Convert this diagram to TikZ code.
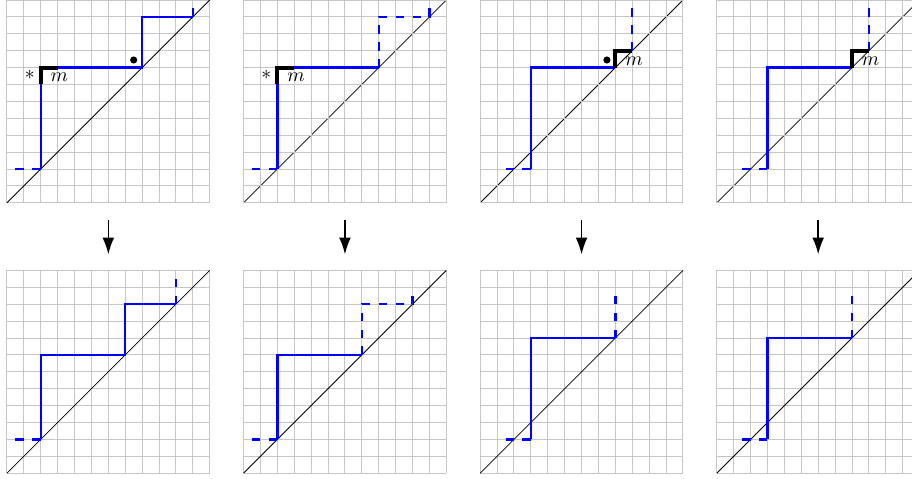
\documentclass[tikz,border=0pt]{standalone}
\usepackage{amsmath}
\usepackage{amssymb}
\usetikzlibrary{arrows.meta}

\begin{document}
\begin{tikzpicture}[
    % Define common styles
        x=0.3cm, y=0.3cm,
        gridline/.style={gray!45, line width=0.5pt, step=0.3cm},
        diag/.style={black, line width=0.4pt},
        lpath/.style={blue, line width=1.2pt},
        ldash/.style={lpath, dash pattern=on 0.15cm off 0.15cm},
        corner/.style={black, line width=2pt},
        dot/.style={circle, fill=black, inner sep=0pt, minimum size=3.6pt},
        lbl/.style={inner sep=0pt},
        arrow/.style={-{Latex[length=8.5pt, width=6pt]}, line width=0.8pt}
    ]

        % Fix the page size
        \useasboundingbox (-0.41,-0.3) rectangle (53.55,28);

        % Grids with their diagonals
        \foreach \i in {0,...,3} {
            \draw[gridline] (14*\i,0) grid (14*\i+12,12);
            \draw[diag] (14*\i,0) -- (14*\i+12,12);
        }
        \draw[gridline] (0,16) grid (12,28);
        \draw[diag] (0,16) -- (12,28);
        \foreach \i in {1,2,3} {
            \draw[diag] (14*\i,16) -- (14*\i+12,28);
            \draw[gridline] (14*\i,16) grid (14*\i+12,28);
        }

        % Arrows from the top row to the bottom row
        \foreach \i in {0,...,3} {
            \coordinate (from\i) at (14*\i+6,15);
            \coordinate (to\i) at (14*\i+6,12.95);
            \draw[arrow] (from\i) -- (to\i);
        }

        % Top row, first panel
        \begin{scope}[yshift=4.8cm]
            \draw[ldash] (0.5,2) -- (2,2);
            \draw[lpath] (2,2) |- (8,8) |- (11,11);
            \draw[ldash] (11,11) -- (11,11.5);
            \draw[corner] (2,7) |- (3,8);
            \node[dot] (dotA) at (7.5,8.45) {};
            \node[lbl] (starA) at (1.35,7.55) {$*$};
            \node[lbl] (mA) at (3.1,7.4) {$m$};
        \end{scope}

        % Top row, second panel
        \begin{scope}[xshift=4.2cm, yshift=4.8cm]
            \draw[ldash] (0.5,2) -- (2,2);
            \draw[lpath] (2,2) |- (8,8);
            \draw[ldash] (8,8) |- (11,11) -- (11,11.5);
            \draw[corner] (2,7) |- (3,8);
            \node[lbl] (starB) at (1.35,7.55) {$*$};
            \node[lbl] (mB) at (3.1,7.4) {$m$};
        \end{scope}

        % Top row, third panel
        \begin{scope}[xshift=8.4cm, yshift=4.8cm]
            \draw[ldash] (1.5,2) -- (3,2);
            \draw[lpath] (3,2) |- (8,8);
            \draw[ldash] (9,9) -- (9,11.5);
            \draw[corner] (8,8) |- (9,9);
            \node[dot] (dotC) at (7.5,8.45) {};
            \node[lbl] (mC) at (9.1,8.4) {$m$};
        \end{scope}

        % Top row, fourth panel
        \begin{scope}[xshift=12.6cm, yshift=4.8cm]
            \draw[ldash] (1.5,2) -- (3,2);
            \draw[lpath] (3,2) |- (8,8);
            \draw[ldash] (9,9) -- (9,11.5);
            \draw[corner] (8,8) |- (9,9);
            \node[lbl] (mD) at (9.1,8.4) {$m$};
        \end{scope}

        % Bottom row, first panel
        \draw[ldash] (0.5,2) -- (2,2);
        \draw[lpath] (2,2) |- (7,7) |- (10,10);
        \draw[ldash] (10,10) -- (10,11.5);

        % Bottom row, second panel
        \begin{scope}[xshift=4.2cm]
            \draw[ldash] (0.5,2) -- (2,2);
            \draw[lpath] (2,2) |- (7,7);
            \draw[ldash] (7,7) |- (10,10) -- (10,10.5);
        \end{scope}

        % Bottom row, third and fourth panels
        \foreach \s in {8.4cm,12.6cm} {
            \begin{scope}[xshift=\s]
                \draw[ldash] (1.5,2) -- (3,2);
                \draw[lpath] (3,2) |- (8,8);
                \draw[ldash] (8,8) -- (8,10.5);
            \end{scope}
        }

    \end{tikzpicture}
\end{document}
